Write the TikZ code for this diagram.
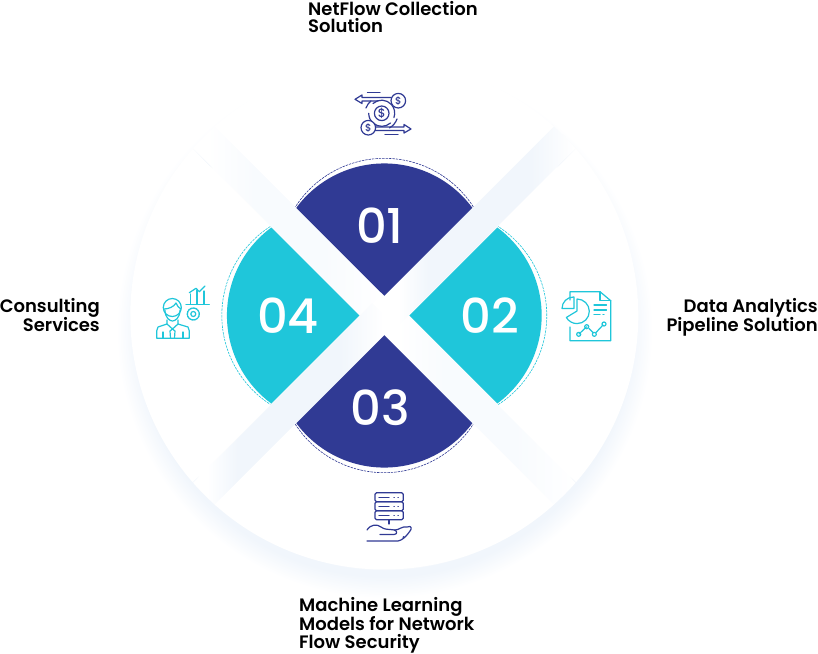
\documentclass[tikz,border=0pt]{standalone}
\usepackage{fontspec}
\setmainfont{Poppins}
\newfontfamily\labelfont{Poppins SemiBold}
\newfontfamily\numberfont{Poppins Medium}
\definecolor{navy}{HTML}{303A94}
\definecolor{teal}{HTML}{1FC6DA}
\definecolor{paleband}{HTML}{F1F6FC}
\definecolor{softband}{HTML}{F8FBFE}
\pgfdeclareradialshading{discglow}{\pgfpoint{0bp}{0bp}}{color(0bp)=(white);color(22bp)=(white);color(22.4bp)=(paleband);color(23bp)=(paleband);color(25bp)=(white);color(50bp)=(white)}
\pgfdeclarehorizontalshading{paledrop}{100bp}{color(0bp)=(white);color(31bp)=(white);color(38bp)=(paleband);color(62bp)=(paleband);color(72bp)=(white);color(100bp)=(white)}
\pgfdeclarehorizontalshading{softdrop}{100bp}{color(0bp)=(white);color(31bp)=(white);color(42bp)=(softband);color(58bp)=(softband);color(72bp)=(white);color(100bp)=(white)}
\tikzset{
  title/.style = {inner sep=0pt,font=\labelfont\fontsize{18}{18.2}\selectfont,text=black},
  number/.style = {inner sep=0pt,text=white,font=\numberfont\fontsize{48}{48}\selectfont},
  icon/.style = {line width=1.2pt,line cap=round,line join=round,fill=none}
}

\begin{document}
\begin{tikzpicture}[x=1pt,y=-1pt]
  \useasboundingbox (0,0) rectangle (818,653);
  \coordinate (CNT) at (384.3,315.5);
  % glow below the disc
  \shade[shading=discglow] (384.5,330) circle (268pt);
  % diagonal bands
  \begin{scope}
    \clip (CNT) circle (254pt);
    \foreach \ang/\shd in {135/softdrop,-45/softdrop,45/paledrop,-135/paledrop}
      \shade[shift={(CNT)},rotate=\ang,y=1pt,shading=\shd] (0,-17) rectangle (270,17);
  \end{scope}
  % sectors and wedges
  \foreach \ang/\off/\col/\edge in {90/19.7/navy/41.9,0/25/teal/41,-90/19.7/navy/41.9,180/25/teal/41}{
    \begin{scope}[shift={(CNT)},rotate=\ang,y=1pt]
      \fill[white] (\off,0) -- (-\edge:254pt) arc (-\edge:\edge:254pt) -- cycle;
      \fill[\col] (\off,0) -- (\off+88,-88) arc (-53.5:53.5:109.5pt) -- cycle;
      \draw[\col,line width=0.6pt,dash pattern=on 2.4pt off 1pt] (\off+89,-89) arc (-57.2:57.2:105.8pt);
    \end{scope}
  }
  % numbers
  \node[number] (N1) at (380,226) {01};
  \node[number] (N2) at (490,315.5) {02};
  \node[number] (N3) at (380,408) {03};
  \node[number] (N4) at (288,315.5) {04};
  % labels
  \node[title,anchor=north west,align=left] (L1) at (308,1) {NetFlow Collection\\[-0.9pt]Solution};
  \node[title,anchor=north east,align=right] (L2) at (818,298) {Data Analytics\\[-0.9pt]Pipeline Solution};
  \node[title,anchor=north west,align=left] (L3) at (299,597) {Machine Learning\\[-0.6pt]Models for Network\\[-0.6pt]Flow Security};
  \node[title,anchor=north east,align=right] (L4) at (100,298) {Consulting\\[-0.9pt]Services};
  % money icon
  \begin{scope}[icon,navy]
    \draw (381.7,113.3) circle (7.3pt);
    \draw (373,103.5) arc (132:-20:13pt) (390.5,123) arc (-48:-132:13pt) (373,123) arc (228:180:13pt);
    \draw (366,108) arc (160:130:17pt) (397,119) arc (-20:-60:17pt);
    \draw[fill=white] (398.3,100.7) circle (7.3pt);
    \draw[fill=white] (368.3,127.7) circle (7.3pt);
    \node[inner sep=0pt,font=\numberfont\fontsize{12}{12}\selectfont] (D1) at (381.7,113.3) {\$};
    \node[inner sep=0pt,font=\numberfont\fontsize{10}{10}\selectfont] (D2) at (398.3,100.7) {\$};
    \node[inner sep=0pt,font=\numberfont\fontsize{10}{10}\selectfont] (D3) at (368.3,127.7) {\$};
    \draw (391,97.5) -- (362,97.5) -- (362,95) -- (355,99.3) -- (362,103.5) -- (362,101) -- (378,101);
    \draw (375.5,127) -- (404,127) -- (404,124.5) -- (411,129) -- (404,133) -- (404,130.5) -- (375.5,130.5);
    \draw (367.5,92.7) -- (380,92.7) (385,134.7) -- (398,134.7);
  \end{scope}
  % report icon
  \begin{scope}[icon,teal]
    \draw (570,300) -- (570,291.7) -- (600,291.7) -- (610.7,300.7) -- (610.7,340.7) -- (570,340.7) -- (570,327);
    \draw (600,291.7) -- (600,300.7) -- (610.7,300.7);
    \draw (577,299) arc (90:-150:12.3pt) -- (577,311) -- cycle;
    \draw (574,297) -- (574,308.5) -- (562,308.5) arc (180:90:11.5pt);
    \draw (594,305) -- (606.5,305) (594,310) -- (606.5,310) (594,314.5) -- (600,314.5) (603,314.5) -- (604,314.5);
    \draw (579,334) -- (586.7,326.7) (589,328.5) -- (593,332.5) (596,332.5) -- (603,325);
    \foreach \px/\py in {578.7/334.3,586.7/326.7,594.3/334.3,604/324}
      \draw (\px,\py) circle (2pt);
  \end{scope}
  % server icon
  \begin{scope}[icon,navy]
    \foreach \ry in {492.7,501.7,510.7}{
      \draw[rounded corners=1.5pt] (375,\ry) rectangle (403.3,\ry+9);
      \draw (379,\ry+4.5) -- (389,\ry+4.5);
      \draw (394,\ry+4.5) -- (394.3,\ry+4.5) (398,\ry+4.5) -- (398.3,\ry+4.5);
    }
    \draw (389,519.7) -- (389,524);
    \draw (367,530) .. controls (371,524) and (377,524) .. (381,527) .. controls (385,530) and (388,529) .. (395,530) .. controls (399,530) and (402,526) .. (407,527) .. controls (412,525) and (412,529) .. (410,531);
    \draw (380,534.5) -- (394,534.5) .. controls (398,534.5) and (397,530) .. (394,530);
    \draw (367,541) -- (398,541) .. controls (402,540) and (405,538) .. (410,531);
    \draw (403,537.5) -- (404,536.5);
  \end{scope}
  % person icon
  \begin{scope}[icon,teal]
    \draw (172.3,307.5) circle (9pt);
    \draw (164,309) .. controls (168,309) and (174,307) .. (176,303) .. controls (177,306) and (179,308) .. (181,309);
    \draw (165,310) .. controls (165,318) and (170,321) .. (172.5,321) .. controls (175,321) and (180,318) .. (180,310);
    \draw (167,320) -- (167,324) -- (158,327) -- (156.7,331) -- (156.7,338.3) -- (189.3,338.3) -- (189.3,331) -- (188,327) -- (178,324) -- (178,320);
    \draw (167,324) -- (172.5,329) -- (178,324);
    \draw (170,331) -- (172.5,329) -- (175,331) -- (174.5,338) (170,331) -- (170.5,338);
    \draw (163,332) -- (163,338) (183,332) -- (183,338);
    \draw (186,304.3) -- (209.3,304.3);
    \draw (190.7,304) -- (190.7,294) (197,304) -- (197,290) (204,304) -- (204,291);
    \draw (189.3,292.7) -- (196,288.3) -- (199.3,291.7) -- (205,286);
    \draw (193.3,314) circle (2.5pt);
    \draw[line width=1.4pt,dash pattern=on 1.8pt off 0.8pt] (193.3,314) circle (6pt);
  \end{scope}
\end{tikzpicture}
\end{document}
